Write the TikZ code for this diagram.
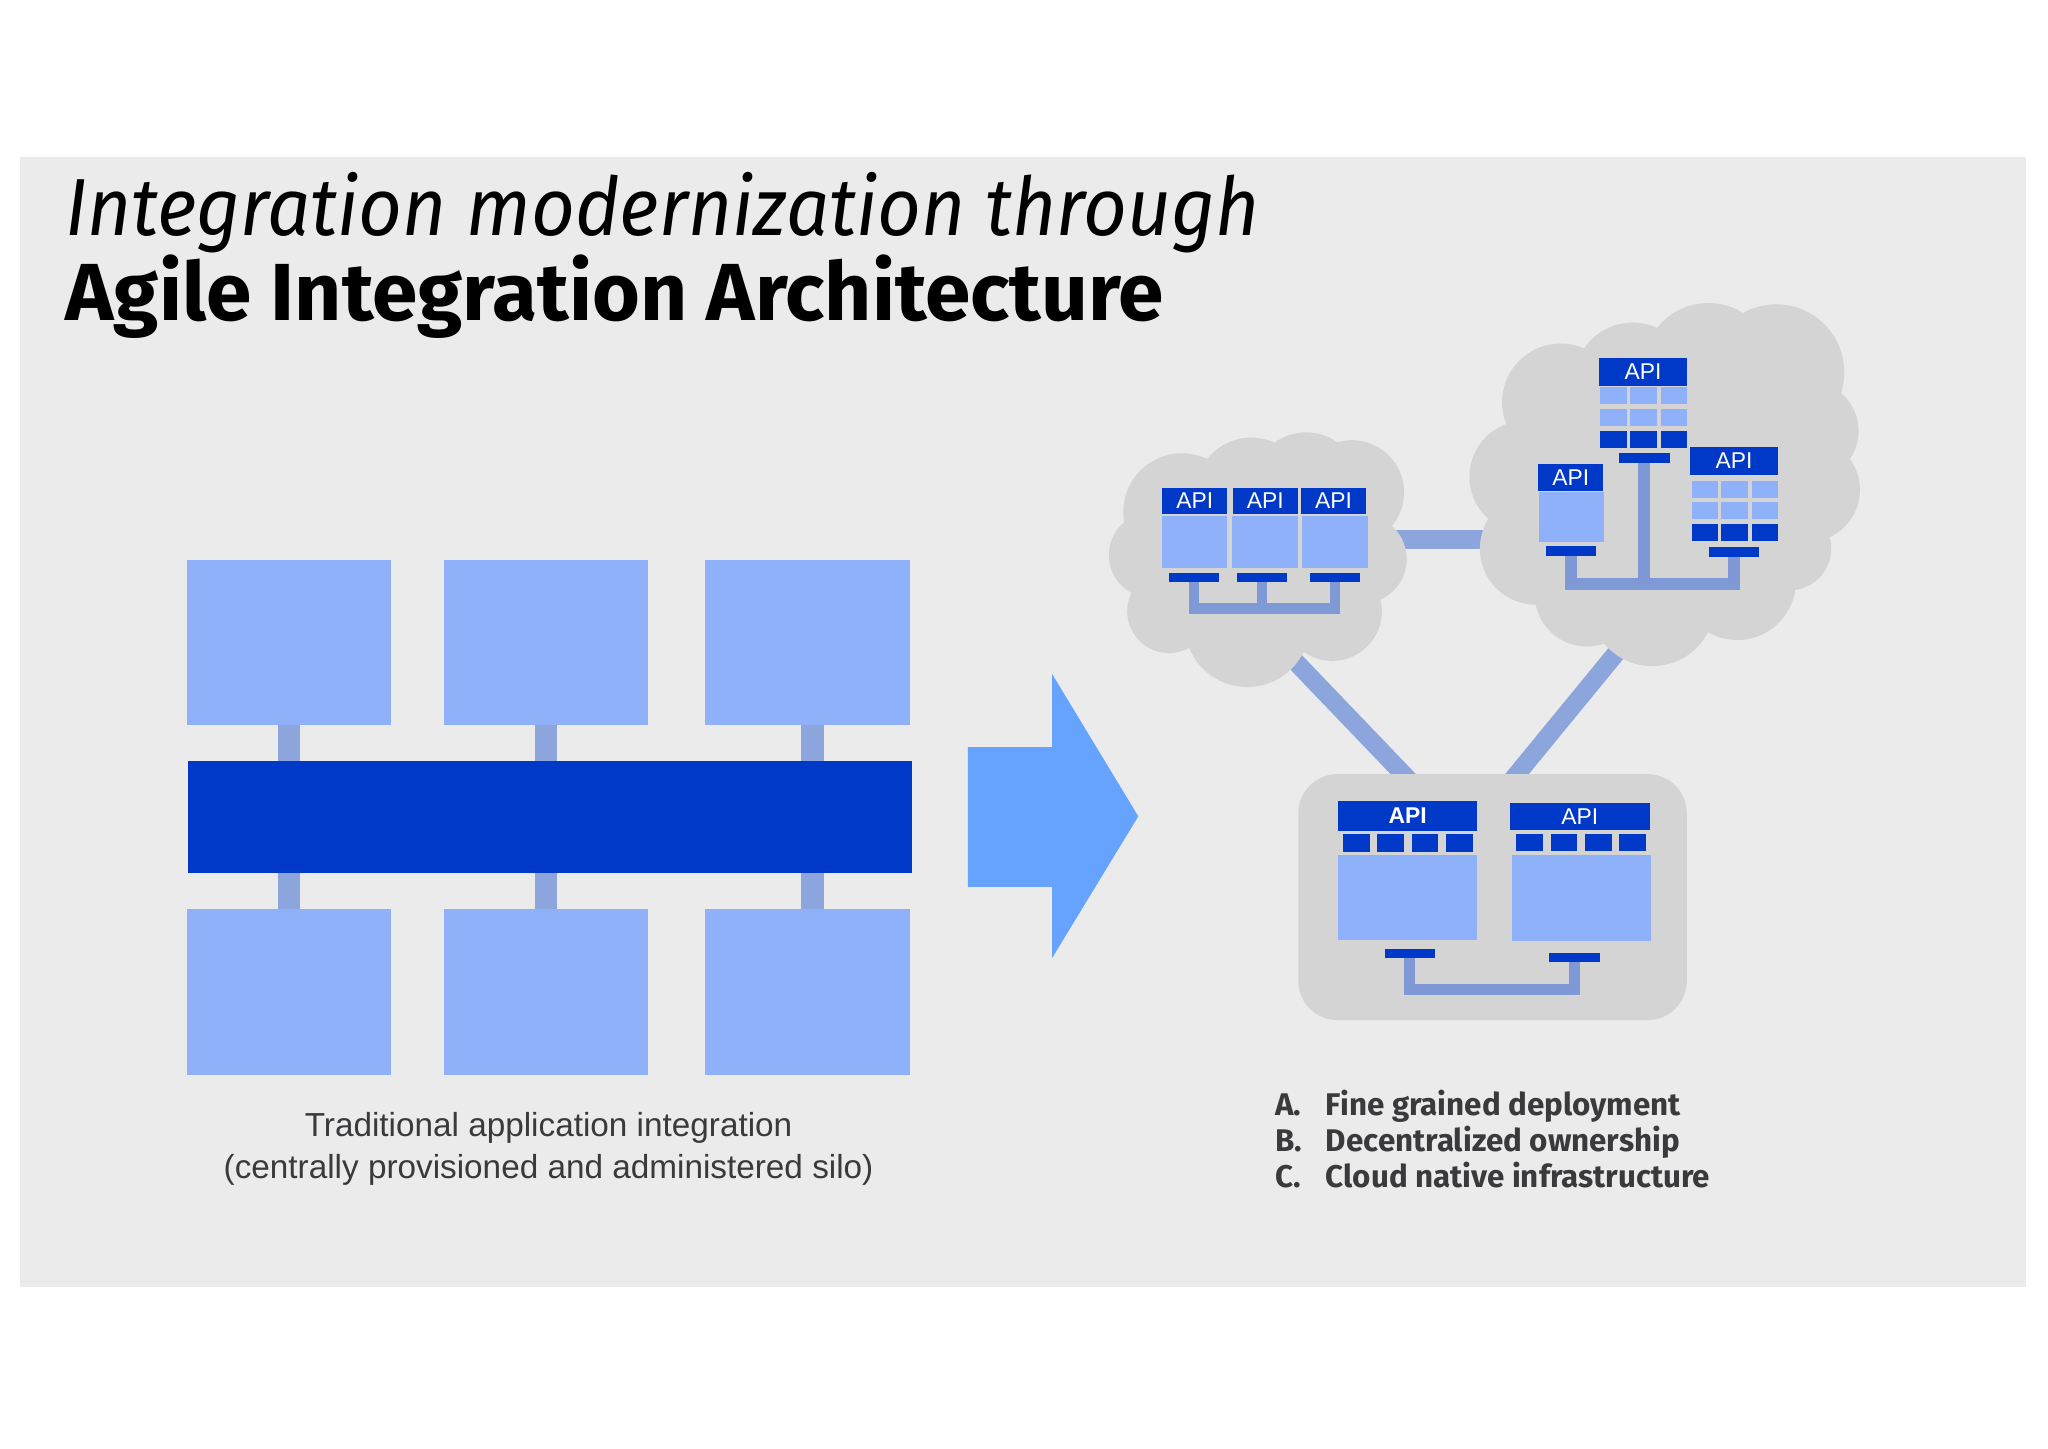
\documentclass[tikz,border=0pt]{standalone}
\usepackage{fontspec}
\setmainfont{Fira Sans}
\newfontfamily\capfont{Liberation Sans}
\definecolor{bgc}{HTML}{EBEBEB}
\definecolor{lite}{HTML}{8FB1FA}
\definecolor{darkb}{HTML}{0038C8}
\definecolor{arrowc}{HTML}{66A3FF}
\definecolor{connc}{HTML}{8CA5DD}
\definecolor{iconn}{HTML}{7F98D6}
\definecolor{cloudc}{HTML}{D4D4D4}
\definecolor{txtc}{HTML}{3A3A3C}
\newcommand\mybox[6]{\node[#1, anchor=north west, minimum width={(#5)-(#3)}, minimum height={(#6)-(#4)}] (#2) at (#3,#4) {};}
\newcommand\myapi[7]{\node[hdr, #1, anchor=north west, minimum width={(#5)-(#3)}, minimum height={(#6)-(#4)}] (#2) at (#3,#4) {#7};}
\newcommand\cell[5]{\fill[#1] (#2,#3) rectangle (#4,#5);}
\begin{document}
\begin{tikzpicture}[x=1pt,y=-1pt,
  blk/.style={inner sep=0pt, outer sep=0pt, draw=none},
  litebox/.style={blk, fill=lite},
  darkbox/.style={blk, fill=darkb},
  hdr/.style={blk, fill=darkb, text=white, font=\capfont\fontsize{17.5}{17.5}\selectfont},
  lconn/.style={draw=connc, line width=17pt},
  bigconn/.style={draw=connc, line width=14pt},
  sconn/.style={draw=iconn, line width=8.5pt, line join=miter},
  capt/.style={font=\capfont\fontsize{25.5}{25.5}\selectfont, text=txtc, anchor=base, inner sep=0pt},
  lst/.style={font=\bfseries\fontsize{24}{24}\selectfont, text=txtc, anchor=base west, inner sep=0pt}]
\useasboundingbox (0,0) rectangle (1568,1109);
\fill[white] (0,0) rectangle (1568,1109);
\fill[bgc] (15,120) rectangle (1551,985);

% titles
\node[anchor=base west, inner sep=0pt] (t1) at (50,180) {\scalebox{0.94}[1]{\fontsize{62}{62}\selectfont\itshape Integration modernization through}};
\node[anchor=base west, inner sep=0pt] (t2) at (50,245) {\scalebox{1.012}[1]{\fontsize{62}{62}\selectfont\bfseries Agile Integration Architecture}};

% traditional silo
\mybox{litebox}{b1}{143}{429}{299}{555}
\mybox{litebox}{b2}{340}{429}{496}{555}
\mybox{litebox}{b3}{540}{429}{697}{555}
\mybox{litebox}{b4}{143}{696}{299}{823}
\mybox{litebox}{b5}{340}{696}{496}{823}
\mybox{litebox}{b6}{540}{696}{697}{823}
\mybox{darkbox}{bus}{144}{583}{698}{668}
\draw[lconn] (b1.south) -- (b1.south |- bus.north);
\draw[lconn] (b2.south) -- (b2.south |- bus.north);
\draw[lconn] ([xshift=3.5pt]b3.south) -- ([xshift=3.5pt]b3.south |- bus.north);
\draw[lconn] (b4.north) -- (b4.north |- bus.south);
\draw[lconn] (b5.north) -- (b5.north |- bus.south);
\draw[lconn] ([xshift=3.5pt]b6.north) -- ([xshift=3.5pt]b6.north |- bus.south);

\node[capt] (cap1) at (420,870.4) {Traditional application integration};
\node[capt] (cap2) at (420,902.2) {(centrally provisioned and administered silo)};

% arrow
\fill[arrowc] (741,572) -- (805.5,572) -- (805.5,516) -- (871.5,625) -- (805.5,733.5) -- (805.5,679) -- (741,679) -- cycle;

% connectors between deployments
\coordinate (lcA) at (975,489);
\coordinate (brA) at (1090,609);
\coordinate (rcA) at (1262,470);
\coordinate (brB) at (1148,609);
\coordinate (lcB) at (1050,413);
\coordinate (rcB) at (1150,413);
\draw[bigconn] (lcA) -- (brA);
\draw[bigconn] (rcA) -- (brB);
\draw[bigconn] (lcB) -- (rcB);

% left cloud
\fill[cloudc] (905,392) circle (45) (958,378) circle (43) (1000,372) circle (41) (1035,377) circle (40)
  (882,425) circle (33) (1043,428) circle (34) (895,468) circle (32) (955,478) circle (48)
  (1020,468) circle (38) (965,430) circle (70);
% right cloud
\fill[cloudc] (1195,308) circle (45) (1250,292) circle (45) (1308,282) circle (50) (1360,285) circle (52)
  (1385,330) circle (38) (1384,375) circle (40) (1168,365) circle (43) (1176,420) circle (43)
  (1215,455) circle (40) (1265,462) circle (48) (1330,445) circle (45) (1370,420) circle (32)
  (1280,370) circle (110);

% bottom deployment
\node[blk, fill=cloudc, rounded corners=30pt, anchor=north west, minimum width=297.5, minimum height=188.3] (br) at (994,592.7) {};

% ---- left cloud components
\myapi{}{la1}{889.8}{373.4}{939.7}{393.9}{API}
\myapi{}{la2}{943.9}{373.4}{993.5}{393.9}{API}
\myapi{}{la3}{996}{373.4}{1046}{393.9}{API}
\mybox{litebox}{lb1}{889.8}{394.9}{939.7}{435.2}
\mybox{litebox}{lb2}{943.5}{394.9}{993.5}{435.2}
\mybox{litebox}{lb3}{997.2}{394.9}{1047.2}{435.2}
\mybox{darkbox}{lf1}{894.8}{438.5}{933.4}{445.7}
\mybox{darkbox}{lf2}{946.9}{438.5}{985.1}{445.7}
\mybox{darkbox}{lf3}{1002.7}{438.5}{1041.3}{445.7}
\coordinate (lbar) at (0,466);
\draw[sconn, line width=8pt] (lf1.south) -- (lf1.south |- lbar) -| (lf3.south);
\draw[sconn, line width=8pt] (lf2.south) -- (lf2.south |- lbar);

% ---- right cloud components
\coordinate (rbar) at (0,447);
% top
\myapi{}{ta}{1224.4}{274.4}{1291.6}{295.3}{API}
\foreach \xa/\xb in {1225.2/1245.4,1248.3/1268.9,1271.4/1291.6}{
  \cell{lite}{\xa}{296.6}{\xb}{309.4}
  \cell{lite}{\xa}{313.5}{\xb}{326.2}
  \cell{darkb}{\xa}{329.8}{\xb}{343.1}}
\mybox{darkbox}{tf}{1239.5}{347.1}{1278.2}{354.3}
% left
\myapi{}{pa}{1177.8}{355.1}{1227.4}{376}{API}
\mybox{litebox}{pb}{1178.2}{377}{1228.2}{415.3}
\mybox{darkbox}{pf}{1183.7}{418.1}{1222.3}{425.5}
% right
\myapi{}{qa}{1294.1}{342.5}{1361.3}{363.5}{API}
\foreach \xa/\xb in {1295.4/1315.5,1318/1338.6,1341/1361.3}{
  \cell{lite}{\xa}{368.3}{\xb}{381.1}
  \cell{lite}{\xa}{384.7}{\xb}{397.7}
  \cell{darkb}{\xa}{401}{\xb}{414.3}}
\mybox{darkbox}{qf}{1308.4}{418.6}{1347}{426.3}
\draw[sconn, line width=9.5pt] (pf.south) -- (pf.south |- rbar) -| (qf.south);
\draw[sconn, line width=9pt] (tf.south) -- (tf.south |- rbar);

% ---- bottom deployment components
\myapi{font=\capfont\bfseries\fontsize{17.5}{17.5}\selectfont}{ba}{1024.3}{613.6}{1131}{636}{API}
\foreach \xa/\xb in {1028.6/1049,1054.6/1075,1080.9/1101.3,1107.2/1127.6}{
  \cell{darkb}{\xa}{638.6}{\xb}{652}}
\mybox{litebox}{bb}{1024.3}{654.7}{1131}{719.8}
\mybox{darkbox}{bf}{1060}{726.7}{1098.5}{733.8}
\myapi{}{ca}{1155.7}{614.6}{1263.2}{635.5}{API}
\foreach \xa/\xb in {1161/1181.5,1187.4/1207.7,1213.4/1233.8,1239.7/1260.1}{
  \cell{darkb}{\xa}{638.6}{\xb}{651.5}}
\mybox{litebox}{cb}{1157.8}{654.7}{1263.9}{720.5}
\mybox{darkbox}{cf}{1186.3}{729.5}{1224.6}{736.8}
\coordinate (bbar) at (0,757.6);
\draw[sconn] (bf.south) -- (bf.south |- bbar) -| (cf.south);

% list
\node[lst] (la) at (976,853.8) {A.};
\node[lst] (lA) at (1015,853.8) {Fine grained deployment};
\node[lst] (lb) at (976,881.4) {B.};
\node[lst] (lB) at (1015,881.4) {Decentralized ownership};
\node[lst] (lc) at (976,909.1) {C.};
\node[lst] (lC) at (1015,909.1) {Cloud native infrastructure};
\end{tikzpicture}
\end{document}
